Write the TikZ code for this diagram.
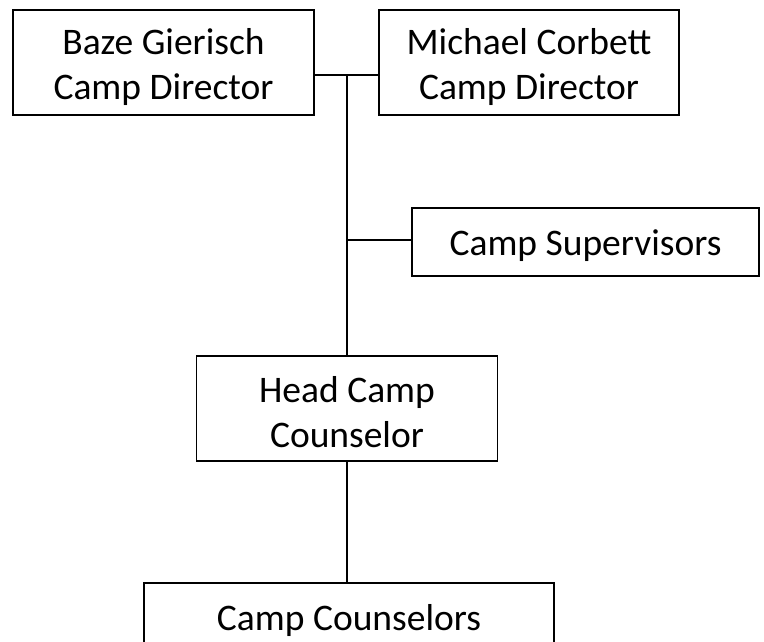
\documentclass[tikz,border=0pt]{standalone}
\usepackage{fontspec}
\setmainfont{Carlito}
\newcommand{\dn}[1]{\raisebox{-4pt}[\height][\depth]{#1}}
\begin{document}
\begin{tikzpicture}[x=1pt,y=-1pt,
  box/.style={draw=black,line width=1.7pt,inner sep=0pt,align=center,
    font=\fontsize{37.5}{45}\selectfont},
  conn/.style={line width=1.7pt}]
\useasboundingbox (0,0) rectangle (764,641);
\clip (0,0) rectangle (764,641);
\node[box,minimum width=301,minimum height=105] (baze) at (163.5,62.5) {\dn{Baze Gierisch}\\\dn{Camp Director}};
\node[box,minimum width=300,minimum height=105] (mike) at (529,62.5) {\dn{Michael Corbett}\\\dn{Camp Director}};
\node[box,minimum width=347,minimum height=68] (sup) at (585.5,242) {\dn{Camp Supervisors}};
\node[box,minimum width=301,minimum height=105] (head) at (347,408.5) {\dn{Head Camp}\\\dn{Counselor}};
\node[box,minimum width=410,minimum height=66] (couns) at (349,616) {\dn{Camp Counselors}};
\coordinate (j1) at (347,75);
\coordinate (j2) at (347,240);
\draw[conn] (baze.east |- j1) -- (mike.west |- j1);
\draw[conn] (j1) -- (head.north);
\draw[conn] (j2) -- (sup.west |- j2);
\draw[conn] (head.south) -- (head.south |- couns.north);
\end{tikzpicture}
\end{document}
